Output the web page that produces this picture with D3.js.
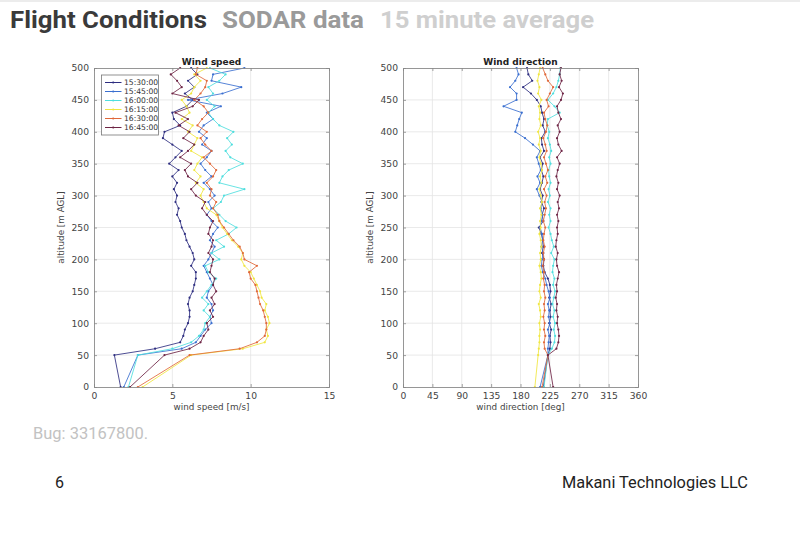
<!DOCTYPE html>
<html><head><meta charset="utf-8">
<script src="https://cdn.jsdelivr.net/npm/d3@7"></script>
<style>
html,body{margin:0;padding:0;background:#fff;}
svg{display:block;}
</style></head>
<body>
<svg id="c" width="800" height="544"></svg>
<script>
// ---------------- data ----------------
const seriesNames = ["15:30:00","15:45:00","16:00:00","16:15:00","16:30:00","16:45:00"];
const seriesColors = ["#2e2e80","#3a6fd0","#4fdede","#f0e640","#e0683a","#6e2545"];
const altitudes = [0,50,60,70,80,90,100,110,120,130,140,150,160,170,180,190,200,210,220,230,240,250,260,270,280,290,300,310,320,330,340,350,360,370,380,390,400,410,420,430,440,450,460,470,480,490,500];

const speed1530 = [1.7,1.3,3.9,5.5,5.7,5.8,6.0,6.1,6.1,6.0,6.1,6.3,6.4,6.5,6.5,6.2,6.4,6.3,6.1,5.9,5.8,5.6,5.5,5.3,5.4,5.2,5.3,5.1,5.3,5.0,5.4,4.8,5.2,5.6,5.0,4.4,4.5,5.5,5.1,5.0,5.9,6.3,5.8,6.4,6.0,6.6,6.2];
const speed1545 = [1.9,2.8,5.6,6.5,6.8,7.1,7.5,7.4,7.6,7.5,7.2,7.3,7.6,7.4,7.2,7.0,7.3,7.5,7.7,7.4,7.6,7.9,7.5,7.2,7.5,7.3,7.7,7.4,7.0,7.5,7.1,6.8,7.2,7.5,6.9,7.2,6.7,7.0,7.6,7.2,8.1,6.0,8.2,9.4,7.5,7.6,9.6];
const speed1600 = [2.2,2.8,5.0,6.2,6.7,7.0,7.1,7.4,7.0,7.3,6.9,7.2,7.5,7.8,7.3,7.1,8.0,7.5,8.3,7.8,8.6,9.1,8.4,8.0,7.6,8.1,8.3,9.6,8.0,8.2,8.6,9.5,8.7,8.4,8.8,8.5,8.9,8.0,7.6,7.3,7.7,7.2,7.6,7.3,8.0,8.4,7.4];
const speed1615 = [3.1,6.2,9.5,10.9,11.1,11.0,11.2,11.1,10.9,11.0,10.7,10.6,10.4,10.2,10.0,9.6,9.4,9.5,9.2,8.8,8.5,8.2,8.0,7.8,7.2,7.0,6.8,7.0,6.5,6.8,6.4,6.6,6.9,6.2,6.4,6.6,6.0,6.3,5.6,6.1,5.9,5.6,6.2,6.4,6.8,6.4,7.2];
const speed1630 = [2.8,6.1,9.3,10.4,10.9,11.0,11.0,10.9,10.8,10.6,10.5,10.4,10.3,10.0,9.9,10.4,9.6,9.5,9.3,8.9,8.6,8.3,8.0,7.9,7.6,7.8,7.4,7.5,7.2,7.6,7.8,7.4,7.0,7.5,7.1,6.8,7.2,6.6,6.9,7.3,7.0,6.4,6.8,7.1,7.2,6.5,6.6];
const speed1645 = [2.3,4.5,6.1,6.8,7.0,7.3,7.2,7.6,7.4,7.7,7.5,7.8,7.6,7.7,7.4,7.5,7.6,7.3,7.5,7.6,7.3,7.4,7.6,7.2,6.9,7.1,6.5,6.2,6.6,6.0,5.8,6.2,5.5,6.0,6.4,5.7,6.1,5.4,6.0,5.2,6.3,6.7,5.0,5.6,5.3,4.9,5.5];

const dir1530 = [215,222,225,226,225,227,224,226,225,227,224,226,225,222,217,215,216,213,215,214,212,208,215,213,216,212,214,210,213,215,212,214,210,216,213,212,218,214,216,213,211,205,196,184,198,192,190];
const dir1545 = [210,222,222,223,224,222,225,223,224,222,225,223,220,218,214,212,213,215,212,214,213,210,212,214,211,213,209,205,210,206,211,208,205,210,199,187,172,175,178,182,154,174,174,164,172,177,174];
const dir1600 = [216,222,228,232,233,231,233,230,232,229,231,233,230,232,229,230,232,227,231,228,226,223,226,224,226,222,225,223,226,224,223,226,224,227,225,222,224,221,222,240,232,222,230,235,238,240,241];
const dir1615 = [202,207,208,209,209,210,209,211,210,208,211,209,210,212,211,209,211,210,212,211,209,211,210,212,210,213,211,209,212,210,213,211,209,211,208,210,207,211,209,210,208,212,207,209,206,208,210];
const dir1630 = [213,222,217,216,218,216,217,215,217,216,218,216,217,215,216,214,216,215,217,215,216,218,215,217,219,217,220,216,221,218,222,219,216,220,218,215,219,221,218,216,223,220,225,230,222,218,214];
const dir1645 = [230,222,235,238,239,238,236,237,235,236,234,236,235,237,239,236,235,237,234,235,237,236,238,236,239,237,240,236,238,235,237,240,236,243,238,236,240,237,242,238,236,242,245,239,243,240,242];

const speedTicks = [0,5,10,15];
const dirTicks = [0,45,90,135,180,225,270,315,360];
const altTicks = [0,50,100,150,200,250,300,350,400,450,500];

const speedSeries = [speed1530,speed1545,speed1600,speed1615,speed1630,speed1645];
const dirSeries = [dir1530,dir1545,dir1600,dir1615,dir1630,dir1645];

// ---------------- drawing ----------------
const svg = d3.select("#c");
const TF = "Roboto, 'Open Sans', sans-serif";
const CF = "'DejaVu Sans', 'Liberation Sans', sans-serif";

svg.append("rect").attr("x",0).attr("y",0).attr("width",800).attr("height",2).attr("fill","#ececec");

// header
svg.append("text").attr("x",10).attr("y",28).attr("font-family",TF).attr("font-weight","bold").attr("font-size",24)
  .attr("fill","#3a3a3a").attr("textLength",197).attr("lengthAdjust","spacingAndGlyphs").text("Flight Conditions");
svg.append("text").attr("x",222).attr("y",28).attr("font-family",TF).attr("font-weight","bold").attr("font-size",24)
  .attr("fill","#9a9a9a").attr("textLength",142).attr("lengthAdjust","spacingAndGlyphs").text("SODAR data");
svg.append("text").attr("x",380).attr("y",28).attr("font-family",TF).attr("font-weight","bold").attr("font-size",24)
  .attr("fill","#cfcfcf").attr("textLength",214).attr("lengthAdjust","spacingAndGlyphs").text("15 minute average");

const y = d3.scaleLinear().domain([0,500]).range([387,68]);

function panel(x0, x1, dom, ticks, title, xlabel, series) {
  const x = d3.scaleLinear().domain(dom).range([x0,x1]);
  const g = svg.append("g");
  g.selectAll(".gx").data(ticks.slice(1,-1)).join("line")
    .attr("x1",d=>x(d)).attr("x2",d=>x(d)).attr("y1",y(0)).attr("y2",y(500))
    .attr("stroke","#e4e4e4").attr("stroke-width",0.8);
  g.selectAll(".gy").data(altTicks.slice(1,-1)).join("line")
    .attr("x1",x0).attr("x2",x1).attr("y1",d=>y(d)).attr("y2",d=>y(d))
    .attr("stroke","#e4e4e4").attr("stroke-width",0.8);

  const line = d3.line().x(d=>x(d[0])).y(d=>y(d[1]));
  series.forEach((vals,i)=>{
    const pts = vals.map((v,j)=>[v, altitudes[j]]);
    g.append("path").attr("d",line(pts)).attr("fill","none")
      .attr("stroke",seriesColors[i]).attr("stroke-width",1).attr("stroke-opacity",0.85);
    g.selectAll(null).data(pts).join("circle")
      .attr("cx",d=>x(d[0])).attr("cy",d=>y(d[1])).attr("r",1.1)
      .attr("fill",seriesColors[i]);
  });

  const ax = d3.axisBottom(x).tickValues(ticks).tickSize(-3).tickPadding(5).tickFormat(d3.format("d"));
  const axT = d3.axisTop(x).tickValues(ticks).tickSize(-3).tickFormat("");
  const ay = d3.axisLeft(y).tickValues(altTicks).tickSize(-3).tickPadding(5).tickFormat(d3.format("d"));
  const ayR = d3.axisRight(y).tickValues(altTicks).tickSize(-3).tickFormat("");
  const style = sel => {
    sel.select(".domain").attr("stroke","#8a8a8a").attr("stroke-width",0.9);
    sel.selectAll(".tick line").attr("stroke","#8a8a8a").attr("stroke-width",0.8);
    sel.selectAll(".tick text").attr("fill","#444").attr("font-family",CF).attr("font-size",9.2);
  };
  g.append("g").attr("transform",`translate(0,${y(0)})`).call(ax).call(style);
  g.append("g").attr("transform",`translate(0,${y(500)})`).call(axT).call(style);
  g.append("g").attr("transform",`translate(${x0},0)`).call(ay).call(style);
  g.append("g").attr("transform",`translate(${x1},0)`).call(ayR).call(style);

  g.append("text").attr("x",(x0+x1)/2).attr("y",65).attr("text-anchor","middle")
    .attr("font-family",CF).attr("font-weight","bold").attr("font-size",9).attr("fill","#222").text(title);
  g.append("text").attr("x",(x0+x1)/2).attr("y",410).attr("text-anchor","middle")
    .attr("font-family",CF).attr("font-size",8.8).attr("fill","#444").text(xlabel);
  g.append("text").attr("transform",`translate(${x0-30},${(y(0)+y(500))/2}) rotate(-90)`).attr("text-anchor","middle")
    .attr("font-family",CF).attr("font-size",8.8).attr("fill","#444").text("altitude [m AGL]");
  return {g,x};
}

const p1 = panel(94, 329, [0,15], speedTicks, "Wind speed", "wind speed [m/s]", speedSeries);
panel(403, 638, [0,360], dirTicks, "Wind direction", "wind direction [deg]", dirSeries);

// legend in speed panel
const lg = p1.g.append("g");
lg.append("rect").attr("x",101.5).attr("y",75).attr("width",57).attr("height",60)
  .attr("fill","#fff").attr("stroke","#777").attr("stroke-width",0.8);
seriesNames.forEach((n,i)=>{
  const yy = 82.5 + i*9;
  lg.append("line").attr("x1",105).attr("x2",121.5).attr("y1",yy).attr("y2",yy)
    .attr("stroke",seriesColors[i]).attr("stroke-width",1);
  lg.append("circle").attr("cx",113.2).attr("cy",yy).attr("r",1.1).attr("fill",seriesColors[i]);
  lg.append("text").attr("x",124).attr("y",yy+2.7).attr("font-family",CF).attr("font-size",7.6)
    .attr("fill","#333").text(n);
});

// footer
svg.append("text").attr("x",33).attr("y",439).attr("font-family",TF).attr("font-size",16)
  .attr("fill","#c2c2c2").attr("textLength",115).attr("lengthAdjust","spacingAndGlyphs").text("Bug: 33167800.");
svg.append("text").attr("x",55).attr("y",488).attr("font-family",TF).attr("font-size",16)
  .attr("fill","#222").text("6");
svg.append("text").attr("x",562).attr("y",488).attr("font-family",TF).attr("font-size",16)
  .attr("fill","#222").attr("textLength",186).attr("lengthAdjust","spacingAndGlyphs").text("Makani Technologies LLC");
</script>
</body></html>
